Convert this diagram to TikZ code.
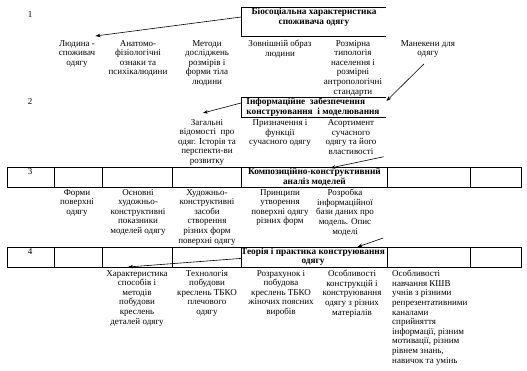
\documentclass[tikz,border=0pt]{standalone}
\usepackage{fontspec}
\setmainfont{Liberation Serif}
\usetikzlibrary{arrows.meta,calc}
\begin{document}
\begin{tikzpicture}[x=1pt,y=-1pt,
  lbl/.style={inner sep=0pt,align=center,anchor=north,font=\fontsize{9}{9.6}\selectfont},
  hdr/.style={inner sep=0pt,align=center,font=\fontsize{9.3}{10}\selectfont\bfseries},
  num/.style={inner sep=0pt,font=\fontsize{9}{9.6}\selectfont},
  cell/.style={draw,line width=0.8pt,inner sep=0pt,anchor=north west,minimum height=20pt},
  arr/.style={line width=0.6pt,-{Stealth[length=5pt,width=3.5pt]}}]
\useasboundingbox (0,0) rectangle (527,370);

% row 1
\node[num] (n1) at (30,15) {1};
\node[inner sep=0pt,anchor=north west,minimum width=145pt,minimum height=29pt] (b1) at (241,7) {};
\draw[line width=0.8pt] (b1.north east) -- (b1.north west) -- (b1.south west) -- (b1.south east);
\node[hdr] (t1) at (314,17.5) {Біосоціальна характеристика\\споживача одягу};

\node[lbl] (l1) at (77,40) {Людина -\\споживач\\одягу};
\node[lbl] (l2) at (138,40) {Анатомо-\\фізіологічні\\ознаки та\\психікалюдини};
\node[lbl] (l3) at (207,40) {Методи\\досліджень\\розмірів і\\форми тіла\\людини};
\node[lbl] (l4) at (280,40) {Зовнішній образ\\людини};
\node[lbl] (l5) at (353,40) {Розмірна\\типологія\\населення і\\розмірні\\антропологічні\\стандарти};
\node[lbl] (l6) at (428,40) {Манекени для\\одягу};

% row 2
\node[num] (n2) at (30,102) {2};
\node[inner sep=0pt,anchor=north west,minimum width=145pt,minimum height=20pt] (b2) at (241,97) {};
\draw[line width=0.8pt] (b2.north east) -- (b2.north west) -- (b2.south west) -- (b2.south east);
\node[hdr,align=left] (t2) at (313,107.5) {Інформаційне~~забезпечення\\конструювання~~і моделювання};

\node[lbl] (m1) at (207,119) {Загальні\\відомості~~про\\одяг. Історія та\\перспекти-ви\\розвитку};
\node[lbl] (m2) at (280,119.5) {Призначення і\\функції\\сучасного одягу};
\node[lbl] (m3) at (351,119.5) {Асортимент\\сучасного\\одягу та його\\властивості};

% row 3 table
\node[cell,minimum width=47pt] (r3a) at (7,167) {};
\node[cell,minimum width=48pt] (r3b) at (54,167) {};
\node[cell,minimum width=70pt] (r3c) at (102,167) {};
\node[cell,minimum width=69pt] (r3d) at (172,167) {};
\node[cell,minimum width=146pt] (r3e) at (241,167) {};
\node[cell,minimum width=83pt] (r3f) at (387,167) {};
\node[cell,minimum width=51pt] (r3g) at (470,167) {};
\node[num] (n3) at (30,172) {3};
\node[hdr] (c3) at (r3e) {Композиційно-конструктивний\\аналіз моделей};

\node[lbl] (q1) at (77,189) {Форми\\поверхні\\одягу};
\node[lbl] (q2) at (138,189) {Основні\\художньо-\\конструктивні\\показники\\моделей одягу};
\node[lbl] (q3) at (207,189) {Художньо-\\конструктивні\\засоби\\створення\\різних форм\\поверхні одягу};
\node[lbl] (q4) at (280,189) {Принципи\\утворення\\поверхні одягу\\різних форм};
\node[lbl] (q5) at (345,189) {Розробка\\інформаційної\\бази даних про\\модель. Опис\\моделі};

% row 4 table
\node[cell,minimum width=47pt] (r4a) at (7,247) {};
\node[cell,minimum width=48pt] (r4b) at (54,247) {};
\node[cell,minimum width=70pt] (r4c) at (102,247) {};
\node[cell,minimum width=69pt] (r4d) at (172,247) {};
\node[cell,minimum width=146pt] (r4e) at (241,247) {};
\node[cell,minimum width=83pt] (r4f) at (387,247) {};
\node[cell,minimum width=51pt] (r4g) at (470,247) {};
\node[num] (n4) at (30,252) {4};
\node[hdr,font=\fontsize{9.3}{9}\selectfont\bfseries] (c4) at (313,257) {Теорія і практика конструювання\\одягу};

\node[lbl] (p1) at (137,270) {Характеристика\\способів і\\методів\\побудови\\креслень\\деталей одягу};
\node[lbl] (p2) at (207,270) {Технологія\\побудови\\креслень ТБКО\\плечового\\одягу};
\node[lbl] (p3) at (281,270) {Розрахунок і\\побудова\\креслень ТБКО\\жіночих поясних\\виробів};
\node[lbl] (p4) at (352,270) {Особливості\\конструкцій і\\конструювання\\одягу з різних\\матеріалів};
\node[lbl,align=left,anchor=north west] (p5) at (392,270) {Особливості\\навчання КШВ\\учнів з різними\\репрезентативними\\каналами\\сприйняття\\інформації, різним\\мотивації, різним\\рівнем знань,\\навичок та умінь};

% arrows
\draw[arr] ([yshift=-10pt]b1.north west) -- ([yshift=4pt]l1.north east);
\draw[arr] ([yshift=-6pt]b2.north west) -- ([xshift=-4pt,yshift=6pt]m1.north);
\draw[arr] ([xshift=-4pt,yshift=-6pt]l6.south) -- ([yshift=-4pt]b2.north east);
\draw[arr] ([xshift=7pt,yshift=-2pt]m3.south east) -- ([xshift=16pt,yshift=-1pt]r3e.north);
\draw[arr] ([xshift=9pt,yshift=-2pt]q5.south east) -- ([xshift=43pt]r4e.north);
\draw[arr] ([yshift=-1pt]r4e.west) -- ([xshift=-9pt,yshift=3pt]p1.north);
\end{tikzpicture}
\end{document}
